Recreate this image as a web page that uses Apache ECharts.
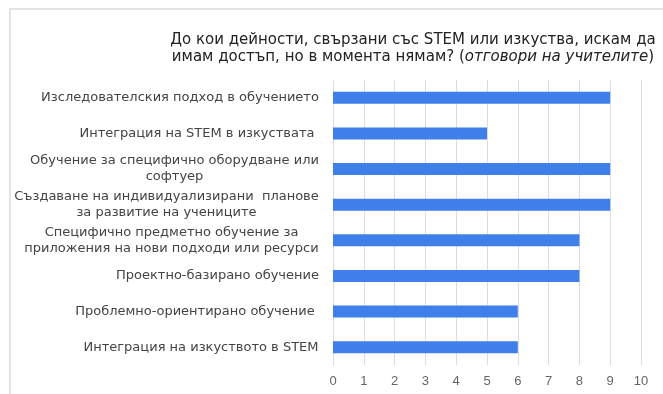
<!DOCTYPE html>
<html>
<head>
<meta charset="utf-8">
<script src="https://cdn.jsdelivr.net/npm/echarts@6/dist/echarts.min.js"></script>
<style>
  html, body { margin: 0; padding: 0; background: #fff; }
  #frame { position: absolute; left: 9px; top: 8px; width: 700px; height: 400px;
           border-top: 2px solid #e3e3e3; border-left: 2px solid #e3e3e3; }
  #chart { position: absolute; left: 0; top: 0; width: 663px; height: 394px; }
</style>
</head>
<body>
<div id="frame"></div>
<div id="chart"></div>
<script>
// Activities (top to bottom) and number of teacher answers
const categories = [
  'Изследователския подход в обучението',
  'Интеграция на STEM в изкуствата ',
  'Обучение за специфично оборудване или\nсофтуер',
  'Създаване на индивидуализирани  планове\nза развитие на учениците',
  'Специфично предметно обучение за\nприложения на нови подходи или ресурси',
  'Проектно-базирано обучение',
  'Проблемно-ориентирано обучение ',
  'Интеграция на изкуството в STEM'
];
const answers = [9, 5, 9, 9, 8, 8, 6, 6];
const xTicks = [0, 1, 2, 3, 4, 5, 6, 7, 8, 9, 10];

const FAMILY = "'DejaVu Sans', Arial, sans-serif";
const LABEL_SIZE = 13;
const measure = document.createElement('canvas').getContext('2d');
measure.font = LABEL_SIZE + 'px ' + FAMILY;

// Multi-line labels: block right-aligned to the axis, each line centred within it
const rich = {};
categories.forEach((c, i) => {
  const lines = c.split('\n');
  const w = Math.max(...lines.map(l => measure.measureText(l).width));
  rich['c' + i] = { width: Math.ceil(w), align: 'center', fontSize: LABEL_SIZE, lineHeight: 16,
                    color: '#444', fontFamily: FAMILY };
});

const chart = echarts.init(document.getElementById('chart'), null, { renderer: 'canvas' });
chart.setOption({
  animation: false,
  title: {
    text: 'До кои дейности, свързани със STEM или изкуства, искам да\nимам достъп, но в момента нямам? ({i|отговори на учителите})',
    left: 408, top: 27, textAlign: 'center',
    textStyle: {
      fontFamily: FAMILY, fontSize: 15, fontWeight: 'normal',
      color: '#222', lineHeight: 17,
      rich: { i: { fontStyle: 'italic', fontSize: 15, color: '#222', fontFamily: FAMILY } }
    }
  },
  grid: { left: 333, right: 22, top: 80, bottom: 29, containLabel: false },
  xAxis: {
    type: 'value', min: 0, max: 10, interval: 1,
    axisLine: { show: false }, axisTick: { show: false },
    splitLine: { lineStyle: { color: '#dcdcdc', width: 1 } },
    axisLabel: { color: '#666', fontSize: 13, margin: 10,
                 fontFamily: "'Liberation Sans', Arial, sans-serif",
                 formatter: v => xTicks.includes(v) ? String(v) : '' }
  },
  yAxis: {
    type: 'category', data: categories, inverse: true,
    axisLine: { show: true, lineStyle: { color: '#dcdcdc' } }, axisTick: { show: false },
    axisLabel: {
      margin: 14, color: '#444', fontSize: LABEL_SIZE, lineHeight: 16,
      fontFamily: FAMILY,
      formatter: (v, i) => v.split('\n').map(l => '{c' + i + '|' + l + '}').join('\n'),
      rich: rich
    }
  },
  series: [{
    type: 'bar', data: answers, barWidth: 12,
    itemStyle: { color: '#3f7fe9' }
  }]
});
</script>
</body>
</html>
